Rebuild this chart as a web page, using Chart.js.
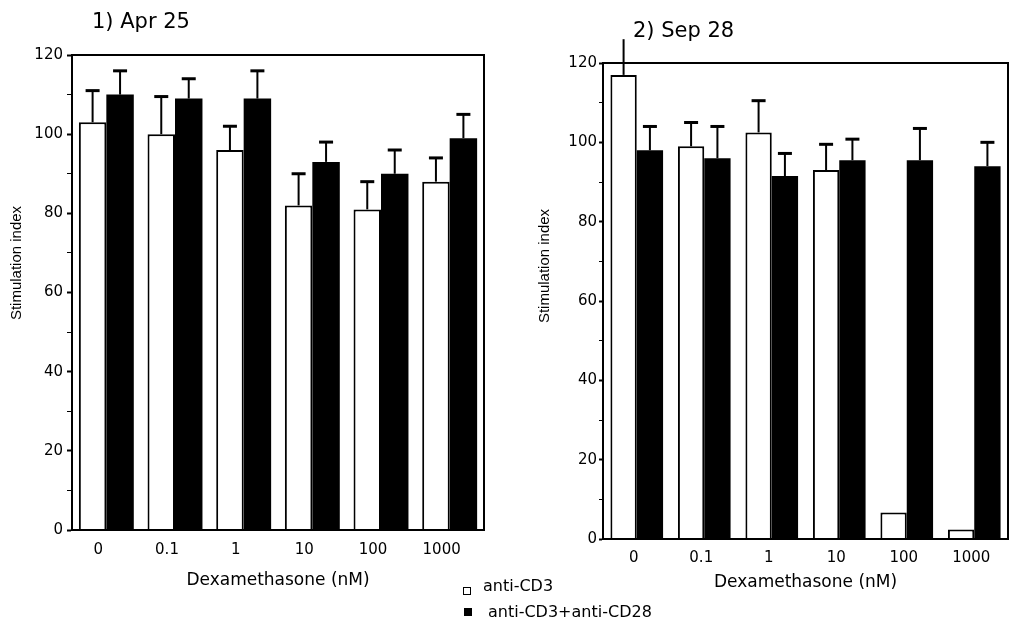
<!DOCTYPE html>
<html><head><meta charset="utf-8">
<script src="https://cdn.jsdelivr.net/npm/chart.js@4"></script>
<style>
html,body{margin:0;padding:0;background:#fff;width:1013px;height:622px;overflow:hidden;position:relative;}
#c1{position:absolute;left:0;top:0;}
#c2{position:absolute;left:500px;top:0;}
.leg{position:absolute;font:16px 'DejaVu Sans';color:#000;line-height:18px;white-space:nowrap;}
.sq{position:absolute;width:8px;height:8px;box-sizing:border-box;}
</style></head><body>
<canvas id="c1" width="500" height="622"></canvas>
<canvas id="c2" width="513" height="622"></canvas>
<div class="sq" style="left:463px;top:587px;border:1.5px solid #000;background:#fff"></div>
<div class="leg" style="left:483px;top:577px">anti-CD3</div>
<div class="sq" style="left:464px;top:608px;background:#000"></div>
<div class="leg" style="left:488px;top:603px">anti-CD3+anti-CD28</div>
<script>
// ---- data ----
const categories = ['0', '0.1', '1', '10', '100', '1000'];
const seriesNames = ['anti-CD3', 'anti-CD3+anti-CD28'];
const aprCD3 = [103, 100, 96, 82, 81, 88];
const aprCD3Err = [8, 9.5, 6, 8, 7, 6];
const aprCD28 = [110, 109, 109, 93, 90, 99];
const aprCD28Err = [6, 5, 7, 5, 6, 6];
const sepCD3 = [117, 99, 102.5, 93, 6.7, 2.4];
const sepCD3Err = [9, 6, 8, 6.5, 0, 0];
const sepCD28 = [98, 96, 91.5, 95.5, 95.5, 94];
const sepCD28Err = [6, 8, 5.7, 5.3, 8, 6];
const yTicks = [0, 20, 40, 60, 80, 100, 120];
const panelTitles = ['1) Apr 25', '2) Sep 28'];
const xTitle = 'Dexamethasone (nM)';
const yTitle = 'Stimulation index';

const FONT = "'DejaVu Sans'";

const errorBars = {
  id: 'errorBars',
  afterDatasetsDraw(chart) {
    const ctx = chart.ctx;
    const ys = chart.scales.y;
    ctx.save();
    ctx.strokeStyle = '#000';
    chart.data.datasets.forEach((ds, i) => {
      const meta = chart.getDatasetMeta(i);
      meta.data.forEach((el, j) => {
        const e = ds.errors[j];
        if (!e) return;
        const top = ys.getPixelForValue(ds.data[j] + e);
        ctx.lineWidth = 2;
        ctx.beginPath(); ctx.moveTo(el.x, el.y); ctx.lineTo(el.x, top); ctx.stroke();
        if (top < chart.chartArea.top) return; // cap cut off above the frame in the source figure
        ctx.lineWidth = 3;
        ctx.beginPath(); ctx.moveTo(el.x - 7, top); ctx.lineTo(el.x + 7, top); ctx.stroke();
      });
    });
    ctx.restore();
  }
};

const frame = {
  id: 'frame',
  afterDatasetsDraw(chart) {
    const a = chart.chartArea, ctx = chart.ctx;
    ctx.save();
    ctx.strokeStyle = '#000'; ctx.lineWidth = 2;
    ctx.strokeRect(a.left, a.top, a.right - a.left, a.bottom - a.top);
    ctx.restore();
  }
};

const panelText = {
  id: 'panelText',
  afterDraw(chart, args, o) {
    const ctx = chart.ctx;
    ctx.save();
    ctx.fillStyle = '#000';
    ctx.font = '21px ' + FONT;
    ctx.textAlign = 'left'; ctx.textBaseline = 'alphabetic';
    ctx.fillText(o.title, o.titleX, o.titleY);
    ctx.translate(o.yTitleX, o.yTitleY);
    ctx.rotate(-Math.PI / 2);
    ctx.font = "15px 'Liberation Sans'";
    ctx.textAlign = 'center'; ctx.textBaseline = 'middle';
    ctx.fillText(chart.options.scales.y.title.text, 0, 0);
    ctx.restore();
  }
};

function makeChart(id, d1, e1, d2, e2, L) {
  return new Chart(document.getElementById(id), {
    type: 'bar',
    data: {
      labels: categories,
      datasets: [
        { label: seriesNames[0], data: d1, errors: e1, backgroundColor: '#fff', borderColor: '#000',
          borderWidth: 2, borderSkipped: 'start', categoryPercentage: L.cat, barPercentage: 1 },
        { label: seriesNames[1], data: d2, errors: e2, backgroundColor: '#000', borderColor: '#000',
          borderWidth: 0, categoryPercentage: L.cat, barPercentage: 1 }
      ]
    },
    options: {
      responsive: false,
      animation: false,
      events: [],
      layout: { padding: L.pad },
      plugins: {
        legend: { display: false },
        tooltip: { enabled: false },
        panelText: { title: L.title, titleX: L.titleX, titleY: L.titleY, yTitleX: L.ytx, yTitleY: L.yty }
      },
      scales: {
        x: {
          offset: true,
          ticks: { padding: L.xpad, labelOffset: L.lo, color: '#000', font: { family: FONT, size: 15 } },
          grid: { display: false, drawTicks: false },
          border: { display: true, color: '#000', width: 2 },
          title: { display: true, text: xTitle, color: '#000', font: { family: FONT, size: 17 },
                   padding: { top: 0, bottom: L.xtb } },
          afterFit: s => { s.height = L.xh; }
        },
        y: {
          min: 0, max: 120,
          afterBuildTicks: s => {
            const t = [];
            for (let v = 0; v <= 120; v += 10) t.push({ value: v });
            s.ticks = t;
          },
          ticks: { padding: L.ypad, color: '#000', font: { family: FONT, size: 15 }, autoSkip: false,
                   callback: v => yTicks.includes(v) ? String(v) : '' },
          grid: { drawOnChartArea: false, drawTicks: true, tickLength: L.tl, tickColor: '#000',
                  tickWidth: c => (c.tick && yTicks.includes(c.tick.value)) ? 2 : 1 },
          border: { display: true, color: '#000', width: 2 },
          title: { display: false, text: yTitle },
          afterFit: s => { s.width = L.yw; }
        }
      }
    },
    plugins: [errorBars, frame, panelText]
  });
}

makeChart('c1', aprCD3, aprCD3Err, aprCD28, aprCD28Err, {
  cat: 0.8, pad: { left: 0, right: 16, top: 55, bottom: 0 }, yw: 72, tl: 5, ypad: 4,
  xh: 92, xpad: 11, lo: -8, xtb: 30.8, title: panelTitles[0], titleX: 92, titleY: 28, ytx: 17, yty: 263
});
makeChart('c2', sepCD3, sepCD3Err, sepCD28, sepCD28Err, {
  cat: 0.78, pad: { left: 0, right: 5, top: 63, bottom: 0 }, yw: 103, tl: 4, ypad: 2,
  xh: 83, xpad: 10, lo: -3, xtb: 28.8, title: panelTitles[1], titleX: 133, titleY: 37, ytx: 45, yty: 266
});
</script>
</body></html>
